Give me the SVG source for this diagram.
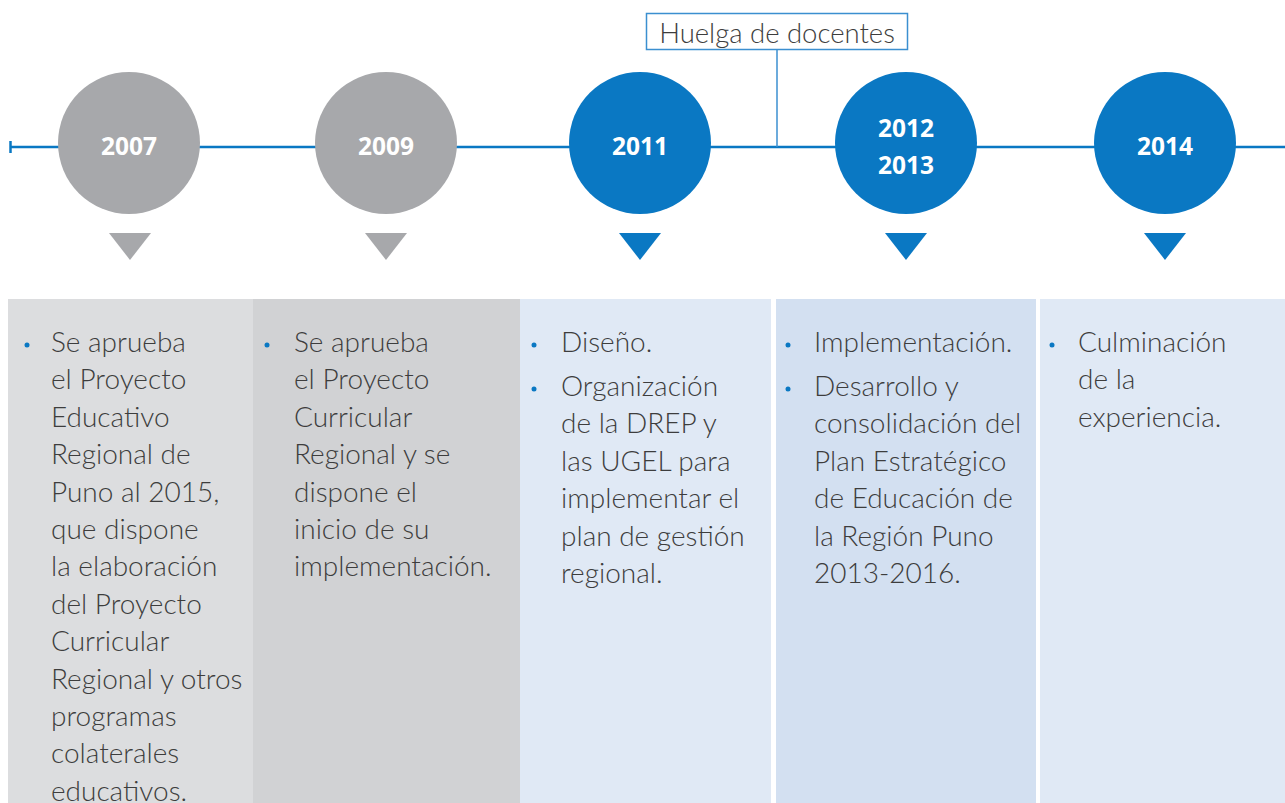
<svg xmlns="http://www.w3.org/2000/svg" width="1285" height="803" viewBox="0 0 1285 803">
<style>
.t{font-family:Lato,"Liberation Sans",sans-serif;font-weight:300;font-size:28px;fill:#3d3d3d}
.h{font-family:Lato,"Liberation Sans",sans-serif;font-weight:300;font-size:27.5px;fill:#3d3d3d;text-anchor:middle}
.y{font-family:"Open Sans","Liberation Sans",sans-serif;font-weight:700;font-size:24.5px;fill:#ffffff;text-anchor:middle}
.b{fill:#0a78c3}
.g{fill:#a7a8ab}
.bl{fill:#0a78c3}
</style>
<rect width="1285" height="803" fill="#ffffff"/>
<g id="connectors">
<line x1="10" y1="147" x2="1285" y2="147" stroke="#0a78c3" stroke-width="2.5"/>
<line x1="10.5" y1="141" x2="10.5" y2="153" stroke="#0a78c3" stroke-width="2.5"/>
<line x1="777" y1="50" x2="777" y2="147" stroke="#3b8fd0" stroke-width="1.5"/>
</g>
<g id="huelga">
<rect x="646.5" y="13.5" width="261" height="36" fill="#ffffff" stroke="#3b8fd0" stroke-width="1.5"/>
<text class="h" x="777" y="43">Huelga de docentes</text>
</g>
<g id="n2007">
<circle cx="129" cy="143" r="71" class="g"/>
<text class="y" x="129" y="155">2007</text>
<polygon points="109,233 151,233 130,260" class="g"/>
</g>
<g id="n2009">
<circle cx="386" cy="143" r="71" class="g"/>
<text class="y" x="386" y="155">2009</text>
<polygon points="365,233 407,233 386,260" class="g"/>
</g>
<g id="n2011">
<circle cx="640" cy="143" r="71" class="b"/>
<text class="y" x="640" y="155">2011</text>
<polygon points="619,233 661,233 640,260" class="b"/>
</g>
<g id="n2012">
<circle cx="906" cy="143" r="71" class="b"/>
<text class="y" x="906" y="137">2012</text>
<text class="y" x="906" y="174">2013</text>
<polygon points="885,233 927,233 906,260" class="b"/>
</g>
<g id="n2014">
<circle cx="1165" cy="143" r="71" class="b"/>
<text class="y" x="1165" y="155">2014</text>
<polygon points="1144,233 1186,233 1165,260" class="b"/>
</g>
<g id="col1">
<rect x="8" y="299" width="245" height="504" fill="#dcdddf"/>
<circle cx="27" cy="345" r="2.5" class="bl"/>
<text class="t" x="51" y="352">Se aprueba</text>
<text class="t" x="51" y="389.4">el Proyecto</text>
<text class="t" x="51" y="426.8">Educativo</text>
<text class="t" x="51" y="464.2">Regional de</text>
<text class="t" x="51" y="501.6">Puno al 2015,</text>
<text class="t" x="51" y="539">que dispone</text>
<text class="t" x="51" y="576.4">la elaboración</text>
<text class="t" x="51" y="613.8">del Proyecto</text>
<text class="t" x="51" y="651.2">Curricular</text>
<text class="t" x="51" y="688.6">Regional y otros</text>
<text class="t" x="51" y="726">programas</text>
<text class="t" x="51" y="763.4">colaterales</text>
<text class="t" x="51" y="800.8">educativos.</text>
</g>
<g id="col2">
<rect x="253" y="299" width="267" height="504" fill="#d1d2d4"/>
<circle cx="267" cy="345" r="2.5" class="bl"/>
<text class="t" x="294" y="352">Se aprueba</text>
<text class="t" x="294" y="389.4">el Proyecto</text>
<text class="t" x="294" y="426.8">Curricular</text>
<text class="t" x="294" y="464.2">Regional y se</text>
<text class="t" x="294" y="501.6">dispone el</text>
<text class="t" x="294" y="539">inicio de su</text>
<text class="t" x="294" y="576.4">implementación.</text>
</g>
<g id="col3">
<rect x="520" y="299" width="251" height="504" fill="#e0e9f5"/>
<circle cx="534" cy="345" r="2.5" class="bl"/>
<text class="t" x="561" y="352">Diseño.</text>
<circle cx="534" cy="389" r="2.5" class="bl"/>
<text class="t" x="561" y="396">Organización</text>
<text class="t" x="561" y="433.4">de la DREP y</text>
<text class="t" x="561" y="470.8">las UGEL para</text>
<text class="t" x="561" y="508.2">implementar el</text>
<text class="t" x="561" y="545.6">plan de gestión</text>
<text class="t" x="561" y="583">regional.</text>
</g>
<g id="col4">
<rect x="776" y="299" width="260" height="504" fill="#d3e0f1"/>
<circle cx="788" cy="345" r="2.5" class="bl"/>
<text class="t" x="814" y="352">Implementación.</text>
<circle cx="788" cy="389" r="2.5" class="bl"/>
<text class="t" x="814" y="396">Desarrollo y</text>
<text class="t" x="814" y="433.4">consolidación del</text>
<text class="t" x="814" y="470.8">Plan Estratégico</text>
<text class="t" x="814" y="508.2">de Educación de</text>
<text class="t" x="814" y="545.6">la Región Puno</text>
<text class="t" x="814" y="583">2013-2016.</text>
</g>
<g id="col5">
<rect x="1040" y="299" width="245" height="504" fill="#e0e9f5"/>
<circle cx="1052" cy="345" r="2.5" class="bl"/>
<text class="t" x="1078" y="352">Culminación</text>
<text class="t" x="1078" y="389.4">de la</text>
<text class="t" x="1078" y="426.8">experiencia.</text>
</g>
</svg>
